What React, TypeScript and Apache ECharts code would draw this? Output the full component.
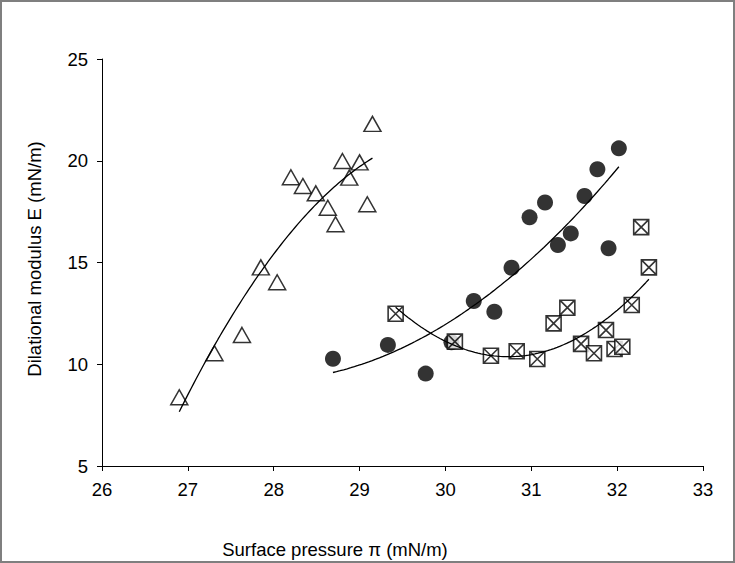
import React, { useEffect, useRef } from "react";
import * as echarts from "echarts";

// Triangles (open)
const triX = [26.90, 27.31, 27.63, 27.85, 28.04, 28.20, 28.34, 28.49, 28.63, 28.72, 28.80, 28.88, 29.00, 29.09, 29.15];
const triY = [8.38, 10.54, 11.44, 14.76, 14.03, 19.19, 18.76, 18.40, 17.69, 16.88, 19.99, 19.17, 19.92, 17.86, 21.81];

// Filled circles
const cirX = [28.69, 29.33, 29.77, 30.07, 30.33, 30.57, 30.77, 30.98, 31.16, 31.31, 31.46, 31.62, 31.77, 31.90, 32.02];
const cirY = [10.27, 10.95, 9.54, 11.08, 13.11, 12.58, 14.74, 17.22, 17.95, 15.86, 16.43, 18.27, 19.58, 15.70, 20.61];

// Crossed squares
const sqX = [29.42, 30.11, 30.53, 30.83, 31.07, 31.26, 31.42, 31.58, 31.73, 31.87, 31.97, 32.06, 32.17, 32.28, 32.37];
const sqY = [12.48, 11.11, 10.42, 10.64, 10.26, 12.01, 12.78, 11.00, 10.54, 11.68, 10.75, 10.86, 12.91, 16.74, 14.76];

const xTicks = [26, 27, 28, 29, 30, 31, 32, 33];
const yTicks = [5, 10, 15, 20, 25];

const xTitle = "Surface pressure π (mN/m)";
const yTitle = "Dilational modulus E (mN/m)";

// second-order polynomial least-squares fit (as a spreadsheet trendline)
function quadFit(xs: number[], ys: number[]) {
  const n = xs.length;
  const m = xs.reduce((s, v) => s + v, 0) / n;
  let s0 = n, s1 = 0, s2 = 0, s3 = 0, s4 = 0, t0 = 0, t1 = 0, t2 = 0;
  for (let i = 0; i < n; i++) {
    const u = xs[i] - m;
    const y = ys[i];
    s1 += u; s2 += u * u; s3 += u * u * u; s4 += u * u * u * u;
    t0 += y; t1 += u * y; t2 += u * u * y;
  }
  const A = [
    [s0, s1, s2, t0],
    [s1, s2, s3, t1],
    [s2, s3, s4, t2],
  ];
  for (let i = 0; i < 3; i++) {
    let p = i;
    for (let r = i + 1; r < 3; r++) if (Math.abs(A[r][i]) > Math.abs(A[p][i])) p = r;
    [A[i], A[p]] = [A[p], A[i]];
    for (let r = 0; r < 3; r++) {
      if (r === i) continue;
      const f = A[r][i] / A[i][i];
      for (let c = i; c < 4; c++) A[r][c] -= f * A[i][c];
    }
  }
  const a = A[0][3] / A[0][0], b = A[1][3] / A[1][1], c = A[2][3] / A[2][2];
  return (x: number) => a + b * (x - m) + c * (x - m) * (x - m);
}

function trend(xs: number[], ys: number[]) {
  const f = quadFit(xs, ys);
  const lo = Math.min(...xs), hi = Math.max(...xs);
  const pts: number[][] = [];
  const steps = 80;
  for (let i = 0; i <= steps; i++) {
    const x = lo + ((hi - lo) * i) / steps;
    pts.push([x, f(x)]);
  }
  return pts;
}

const zip = (xs: number[], ys: number[]) => xs.map((x, i) => [x, ys[i]]);

const FONT = "Liberation Sans, Arial, sans-serif";

export default function App() {
  const ref = useRef<HTMLDivElement>(null);
  useEffect(() => {
    document.body.style.margin = "0";
    const chart = echarts.init(ref.current!, null, { renderer: "svg" });
    const lineStyle = { color: "#000", width: 1.3 };
    chart.setOption({
      animation: false,
      backgroundColor: "#fff",
      grid: { left: 102, right: 32, top: 59, bottom: 97 },
      xAxis: {
        type: "value",
        min: xTicks[0],
        max: xTicks[xTicks.length - 1],
        interval: 1,
        splitLine: { show: false },
        axisLine: { show: true, lineStyle: { color: "#000", width: 1 } },
        axisTick: { show: true, inside: false, length: 5, lineStyle: { color: "#000" } },
        axisLabel: { color: "#000", fontSize: 18.5, fontFamily: FONT, margin: 14 },
      },
      yAxis: {
        type: "value",
        min: yTicks[0],
        max: yTicks[yTicks.length - 1],
        interval: 5,
        splitLine: { show: false },
        axisLine: { show: true, lineStyle: { color: "#000", width: 1 } },
        axisTick: { show: true, inside: false, length: 5, lineStyle: { color: "#000" } },
        axisLabel: { color: "#000", fontSize: 18.5, fontFamily: FONT, margin: 14 },
      },
      graphic: [
        {
          type: "rect",
          shape: { x: 1, y: 1, width: 733, height: 561 },
          style: { fill: "none", stroke: "#7f7f7f", lineWidth: 2 },
          silent: true,
        },
        {
          type: "text",
          x: 335,
          y: 549,
          style: { text: xTitle, fill: "#000", font: `18.5px ${FONT}`, align: "center", verticalAlign: "middle" },
        },
        {
          type: "text",
          x: 34,
          y: 259,
          rotation: Math.PI / 2,
          style: { text: yTitle, fill: "#000", font: `18.5px ${FONT}`, align: "center", verticalAlign: "middle" },
        },
      ],
      series: [
        {
          type: "scatter",
          data: zip(triX, triY),
          symbol: "triangle",
          symbolSize: [17, 15],
          itemStyle: { color: "#fff", borderColor: "#000", borderWidth: 1.5 },
          z: 2,
        },
        {
          type: "scatter",
          data: zip(cirX, cirY),
          symbol: "circle",
          symbolSize: 16,
          itemStyle: { color: "#000", borderColor: "#000", borderWidth: 0 },
          z: 2,
        },
        {
          type: "scatter",
          data: zip(sqX, sqY),
          symbol: "path://M0 0H20V20H0Z M0 0L20 20M20 0L0 20",
          symbolSize: 15,
          itemStyle: { color: "#fff", borderColor: "#000", borderWidth: 1.6 },
          z: 2,
        },
        { type: "line", data: trend(triX, triY), showSymbol: false, symbol: "none", lineStyle, z: 3 },
        { type: "line", data: trend(cirX, cirY), showSymbol: false, symbol: "none", lineStyle, z: 3 },
        { type: "line", data: trend(sqX, sqY), showSymbol: false, symbol: "none", lineStyle, z: 3 },
      ],
    });
    return () => chart.dispose();
  }, []);
  return <div ref={ref} style={{ width: 735, height: 563, position: "fixed", left: 0, top: 0 }} />;
}
